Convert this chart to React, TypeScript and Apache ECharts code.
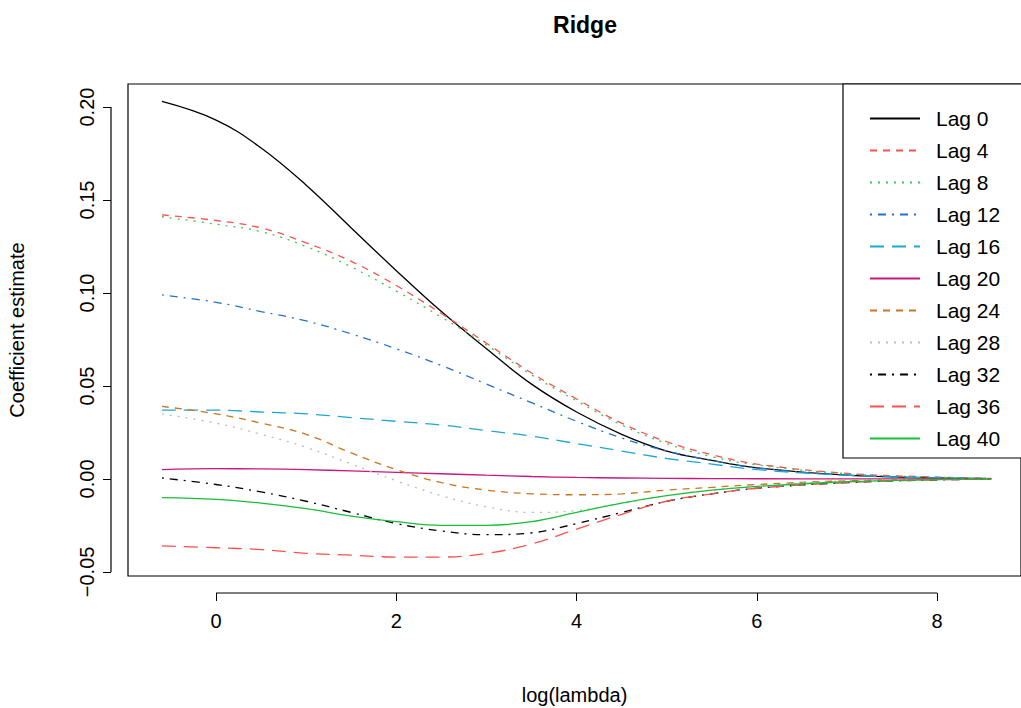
import React, { useEffect, useRef } from "react";
import * as echarts from "echarts";

const logLambda = [-0.6, 0, 0.5, 1, 1.5, 2, 2.5, 3, 3.5, 4, 4.5, 5, 5.5, 6, 7, 8, 8.6];

const lag0 = [0.203, 0.193, 0.178, 0.158, 0.135, 0.112, 0.09, 0.07, 0.051, 0.036, 0.024, 0.015, 0.01, 0.006, 0.002, 0.0006, 0.0002];
const lag4 = [0.142, 0.139, 0.135, 0.127, 0.117, 0.104, 0.089, 0.073, 0.057, 0.043, 0.03, 0.02, 0.013, 0.008, 0.003, 0.001, 0.0003];
const lag8 = [0.141, 0.137, 0.133, 0.125, 0.114, 0.101, 0.087, 0.072, 0.056, 0.042, 0.029, 0.019, 0.012, 0.0075, 0.0028, 0.0009, 0.0003];
const lag12 = [0.099, 0.095, 0.09, 0.085, 0.078, 0.07, 0.061, 0.051, 0.041, 0.031, 0.022, 0.015, 0.01, 0.006, 0.002, 0.0007, 0.0002];
const lag16 = [0.037, 0.037, 0.036, 0.035, 0.033, 0.031, 0.029, 0.026, 0.023, 0.019, 0.015, 0.011, 0.008, 0.005, 0.002, 0.0005, 0.0002];
const lag20 = [0.005, 0.0055, 0.0054, 0.005, 0.0043, 0.0035, 0.0028, 0.002, 0.0013, 0.0008, 0.0005, 0.0003, 0.0002, 0.0001, 0, 0, 0];
const lag24 = [0.039, 0.035, 0.03, 0.024, 0.014, 0.005, -0.002, -0.006, -0.008, -0.0085, -0.008, -0.006, -0.0045, -0.003, -0.001, -0.0003, -0.0001];
const lag28 = [0.035, 0.03, 0.024, 0.017, 0.008, -0.001, -0.009, -0.015, -0.018, -0.017, -0.013, -0.009, -0.006, -0.004, -0.001, -0.0003, -0.0001];
const lag32 = [0.0005, -0.003, -0.007, -0.012, -0.018, -0.024, -0.028, -0.03, -0.029, -0.024, -0.018, -0.012, -0.008, -0.005, -0.002, -0.0005, -0.0002];
const lag36 = [-0.036, -0.037, -0.038, -0.04, -0.041, -0.042, -0.042, -0.04, -0.035, -0.027, -0.019, -0.012, -0.008, -0.005, -0.002, -0.0005, -0.0002];
const lag40 = [-0.01, -0.011, -0.013, -0.016, -0.02, -0.023, -0.025, -0.025, -0.023, -0.018, -0.013, -0.009, -0.006, -0.004, -0.0015, -0.0004, -0.0001];

const seriesNames = ["Lag 0", "Lag 4", "Lag 8", "Lag 12", "Lag 16", "Lag 20", "Lag 24", "Lag 28", "Lag 32", "Lag 36", "Lag 40"];
const seriesValues = [lag0, lag4, lag8, lag12, lag16, lag20, lag24, lag28, lag32, lag36, lag40];
const colors = ["#000000", "#F8524F", "#3CC84A", "#2271D0", "#1EA6D2", "#C8177E", "#CC7420", "#BBBBBB", "#000000", "#F8524F", "#18BE3A"];
const dashes: any[] = ["solid", [7, 6], [2, 6], [2, 6, 8, 6], [14, 8], "solid", [7, 6], [2, 6], [2, 6, 8, 6], [14, 8], "solid"];
const xTicks = [0, 2, 4, 6, 8];
const yTicks = [-0.05, 0, 0.05, 0.1, 0.15, 0.2];

const font = "Liberation Sans, Arial, sans-serif";

export default function App() {
  const ref = useRef<HTMLDivElement>(null);

  useEffect(() => {
    document.body.style.margin = "0";
    if (!ref.current) return;
    const chart = echarts.init(ref.current, null, { renderer: "svg" });
    chart.setOption({
      animation: false,
      backgroundColor: "#fff",
      textStyle: { fontFamily: font },
      title: {
        text: "Ridge",
        left: 580,
        top: 8,
        textAlign: "center",
        textStyle: { fontSize: 23, fontWeight: "bold", color: "#000", fontFamily: font },
      },
      grid: {
        left: 128, right: 0, top: 84, bottom: 132,
        outerBoundsMode: "none", containLabel: false,
        show: true, borderColor: "#000", borderWidth: 1.2,
      },
      legend: {
        left: 864,
        top: 103,
        z: 6,
        orient: "vertical",
        itemWidth: 50,
        itemHeight: 20,
        itemGap: 11,
        itemStyle: { opacity: 0 },
        textStyle: { fontSize: 21, color: "#000", padding: [0, 0, 0, 11] },
        data: seriesNames,
      },
      xAxis: {
        type: "value",
        min: -0.977,
        max: 8.93,
        offset: 17,
        name: "log(lambda)",
        nameLocation: "middle",
        nameGap: 92,
        nameTextStyle: { fontSize: 20, color: "#000" },
        splitLine: { show: false },
        axisLine: { show: false, onZero: false },
        axisTick: { show: true, length: 8, customValues: xTicks, lineStyle: { color: "#000" } },
        axisLabel: { customValues: xTicks, fontSize: 20, color: "#000", margin: 18 },
      },
      yAxis: {
        type: "value",
        min: -0.0522,
        max: 0.2124,
        offset: 17,
        name: "Coefficient estimate",
        nameLocation: "middle",
        nameGap: 84,
        nameTextStyle: { fontSize: 20, color: "#000" },
        splitLine: { show: false },
        axisLine: { show: false, onZero: false },
        axisTick: { show: true, length: 8, customValues: yTicks, lineStyle: { color: "#000" } },
        axisLabel: {
          customValues: yTicks,
          fontSize: 20,
          color: "#000",
          rotate: 90,
          margin: 14,
          formatter: (v: number) => (v < 0 ? "\u2212" + Math.abs(v).toFixed(2) : v.toFixed(2)),
        },
      },
      series: seriesNames.map((n, i) => ({
        name: n,
        type: "line",
        smooth: 0.4,
        symbol: "none",
        data: logLambda.map((x, j) => [x, seriesValues[i][j]]),
        lineStyle: { color: colors[i], width: 1.3, type: dashes[i] },
        itemStyle: { color: colors[i] },
        z: 2,
      })),
    });
    // R-style detached axis lines spanning the tick range
    const x0 = chart.convertToPixel({ gridIndex: 0 }, [0, 0])[0];
    const x8 = chart.convertToPixel({ gridIndex: 0 }, [8, 0])[0];
    const yLo = chart.convertToPixel({ gridIndex: 0 }, [0, -0.05])[1];
    const yHi = chart.convertToPixel({ gridIndex: 0 }, [0, 0.2])[1];
    chart.setOption({
      graphic: [
        { type: "line", shape: { x1: x0, y1: 593, x2: x8, y2: 593 }, style: { stroke: "#000", lineWidth: 1.2 } },
        { type: "line", shape: { x1: 111, y1: yLo, x2: 111, y2: yHi }, style: { stroke: "#000", lineWidth: 1.2 } },
        { type: "rect", z: 3, shape: { x: 843, y: 84, width: 190, height: 374 }, style: { fill: "#fff", stroke: "#000", lineWidth: 1.2 } },
      ],
    });
    return () => chart.dispose();
  }, []);

  return <div ref={ref} style={{ width: 1021, height: 708 }} />;
}
